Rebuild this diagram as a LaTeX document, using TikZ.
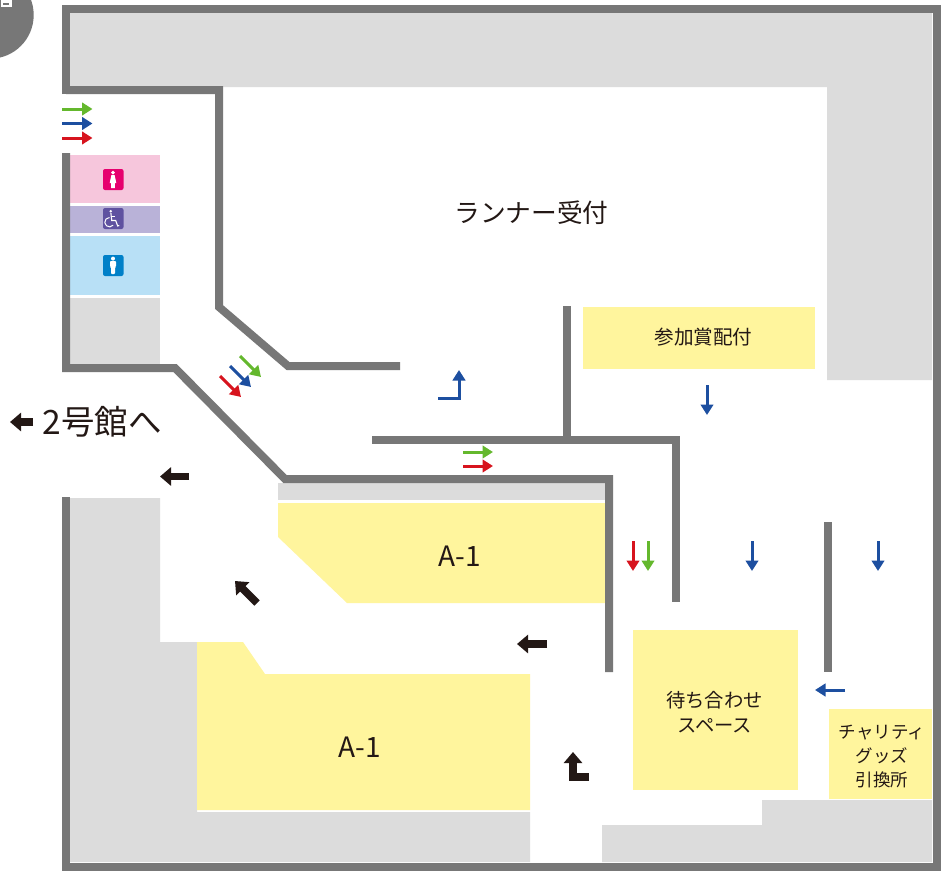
\documentclass[tikz,border=0pt]{standalone}
\usepackage{fontspec}
\setmainfont{Noto Sans CJK JP}[Scale=1]
\usetikzlibrary{arrows.meta}
\definecolor{wallc}{HTML}{777777}
\definecolor{greyc}{HTML}{DCDCDC}
\definecolor{yelc}{HTML}{FFF59D}
\definecolor{pinkc}{HTML}{F6C6DC}
\definecolor{pinki}{HTML}{E6006E}
\definecolor{purc}{HTML}{B9B2D8}
\definecolor{puri}{HTML}{5F52A0}
\definecolor{bluc}{HTML}{B8E0F6}
\definecolor{blui}{HTML}{0080C8}
\definecolor{arblue}{HTML}{1D4FA0}
\definecolor{arred}{HTML}{D7141E}
\definecolor{argreen}{HTML}{64B82D}
\definecolor{arblack}{HTML}{231815}
\definecolor{txtc}{HTML}{231815}
\tikzset{
  wall/.style={draw=wallc,line width=8bp,miter limit=10},
  thinar/.style={line width=3bp,-{Triangle[length=10.5bp,width=12.5bp,inset=0pt]}},
  fatar/.style={line width=7.5bp,arblack,-{Triangle[length=11bp,width=18bp,inset=0pt]}},
  label/.style={text=txtc,align=center,inner sep=0pt},
  icon/.style={rounded corners=2bp},
}
\begin{document}
\begin{tikzpicture}[x=1bp,y=-1bp]
\useasboundingbox (0,0) rectangle (941,872);
\fill[white] (0,0) rectangle (941,872);
% corner badge
\begin{scope}
\clip (0,0) rectangle (941,872);
\fill[wallc] (-10,15) circle (43.7);
\fill[white] (1,0) rectangle (12,7);
\fill[wallc] (3,3) rectangle (9,5);
\end{scope}
% grey areas
\fill[greyc] (70,13) -- (932,13) -- (932,380) -- (827,380) -- (827,87) -- (70,87) -- cycle;
\fill[greyc] (70,498) -- (160,498) -- (160,642) -- (197,642) -- (197,812) -- (530,812) -- (530,862) -- (70,862) -- cycle;
\fill[greyc] (602,862) -- (602,825) -- (762,825) -- (762,800) -- (932,800) -- (932,862) -- cycle;
\fill[greyc] (70,298) rectangle (160,364);
\fill[greyc] (278,483) rectangle (605,500);
% rest rooms
\fill[pinkc] (70,155) rectangle (160,203);
\fill[purc] (70,206) rectangle (160,233);
\fill[bluc] (70,236) rectangle (160,295);
\fill[pinki,icon] (103,169) rectangle (123.5,190);
\fill[puri,icon] (103,208) rectangle (123.5,229);
\fill[blui,icon] (103,255) rectangle (123.5,276);
% woman
\fill[white] (113,172.6) circle (1.9);
\fill[white] (111.4,175) -- (114.6,175) -- (116.3,183) -- (114.8,183) -- (114.8,188) -- (111.2,188) -- (111.2,183) -- (109.7,183) -- cycle;
% man
\fill[white] (113,258.6) circle (2);
\fill[white,rounded corners=.8bp] (110,261) -- (116,261) -- (116,267) -- (115,267) -- (115,274) -- (111,274) -- (111,267) -- (110,267) -- cycle;
% wheelchair
\fill[white] (110.7,211.2) circle (1.4);
\draw[white,line width=1.1bp] (110.9,213) -- (111.7,220.5) -- (115.7,220.5) -- (117.7,226) -- (119.3,225.4);
\draw[white,line width=1.1bp] (111,216.8) -- (115.2,216.8);
\draw[white,line width=1bp] (113.1,225.2) arc (40:270:4.7);
% yellow areas
\fill[yelc] (278,503) -- (605,503) -- (605,603) -- (347,603) -- (278,537) -- cycle;
\fill[yelc] (197,642) -- (243,642) -- (265,674) -- (530,674) -- (530,810) -- (197,810) -- cycle;
\fill[yelc] (583,307) rectangle (815,369);
\fill[yelc] (633,630) rectangle (798,790);
\fill[yelc] (829,709) rectangle (932,799);
% walls
\draw[wall] (66,94) -- (66,9) -- (936.5,9) -- (936.5,867) -- (66,867) -- (66,497);
\draw[wall] (66,90) -- (219,90) -- (219,307) -- (288,366) -- (400,366);
\draw[wall] (66,153) -- (66,368) -- (175,368) -- (285,479) -- (609,479) -- (609,672);
\draw[wall] (372,440) -- (676,440) -- (676,602);
\draw[wall] (567,306) -- (567,440);
\draw[wall] (828,522) -- (828,672);
% arrows
\draw[thinar,argreen] (62,109) -- (92.5,109);
\draw[thinar,arblue] (62,123.5) -- (92.5,123.5);
\draw[thinar,arred] (62,138) -- (92.5,138);
\draw[thinar,argreen] (240,356) -- (261,377);
\draw[thinar,arblue] (230,366) -- (251,387);
\draw[thinar,arred] (220,376) -- (241,397);
\draw[thinar,arblue,line join=miter] (438,398.5) -- (459,398.5) -- (459,370);
\draw[thinar,arblue] (707,385) -- (707,415);
\draw[thinar,argreen] (463,452) -- (493,452);
\draw[thinar,arred] (463,466) -- (493,466);
\draw[thinar,arred] (633,541) -- (633,571);
\draw[thinar,argreen] (648,541) -- (648,571);
\draw[thinar,arblue] (752,541) -- (752,571);
\draw[thinar,arblue] (878,541) -- (878,571);
\draw[thinar,arblue] (845,690) -- (815,690);
\draw[fatar] (33,422) -- (10,422);
\draw[fatar] (189,476.5) -- (160,476.5);
\draw[fatar] (547,644) -- (517,644);
\draw[fatar] (257,603) -- (235,581);
\draw[fatar,line join=miter] (589,777) -- (573,777) -- (573,752);
% labels
\node[label,font=\fontsize{25.7bp}{30bp}\selectfont] (reception) at (531.5,213) {ランナー受付};
\node[label,font=\fontsize{19.6bp}{24bp}\selectfont] (gift) at (703.5,337) {参加賞配付};
\node[label,font=\fontsize{33.5bp}{38bp}\selectfont] (toB) at (102,422) {2号館へ};
\node[label,font=\fontsize{28bp}{34bp}\selectfont] (aone) at (459.5,556) {A-1};
\node[label,font=\fontsize{28bp}{34bp}\selectfont] (atwo) at (359.5,747) {A-1};
\node[label,font=\fontsize{19.3bp}{25bp}\selectfont] (meet) at (714.5,712) {待ち合わせ\\スペース};
\node[label,font=\fontsize{17.5bp}{24bp}\selectfont] (charity) at (882,756) {チャリティ\\グッズ\\引換所};
\end{tikzpicture}
\end{document}
